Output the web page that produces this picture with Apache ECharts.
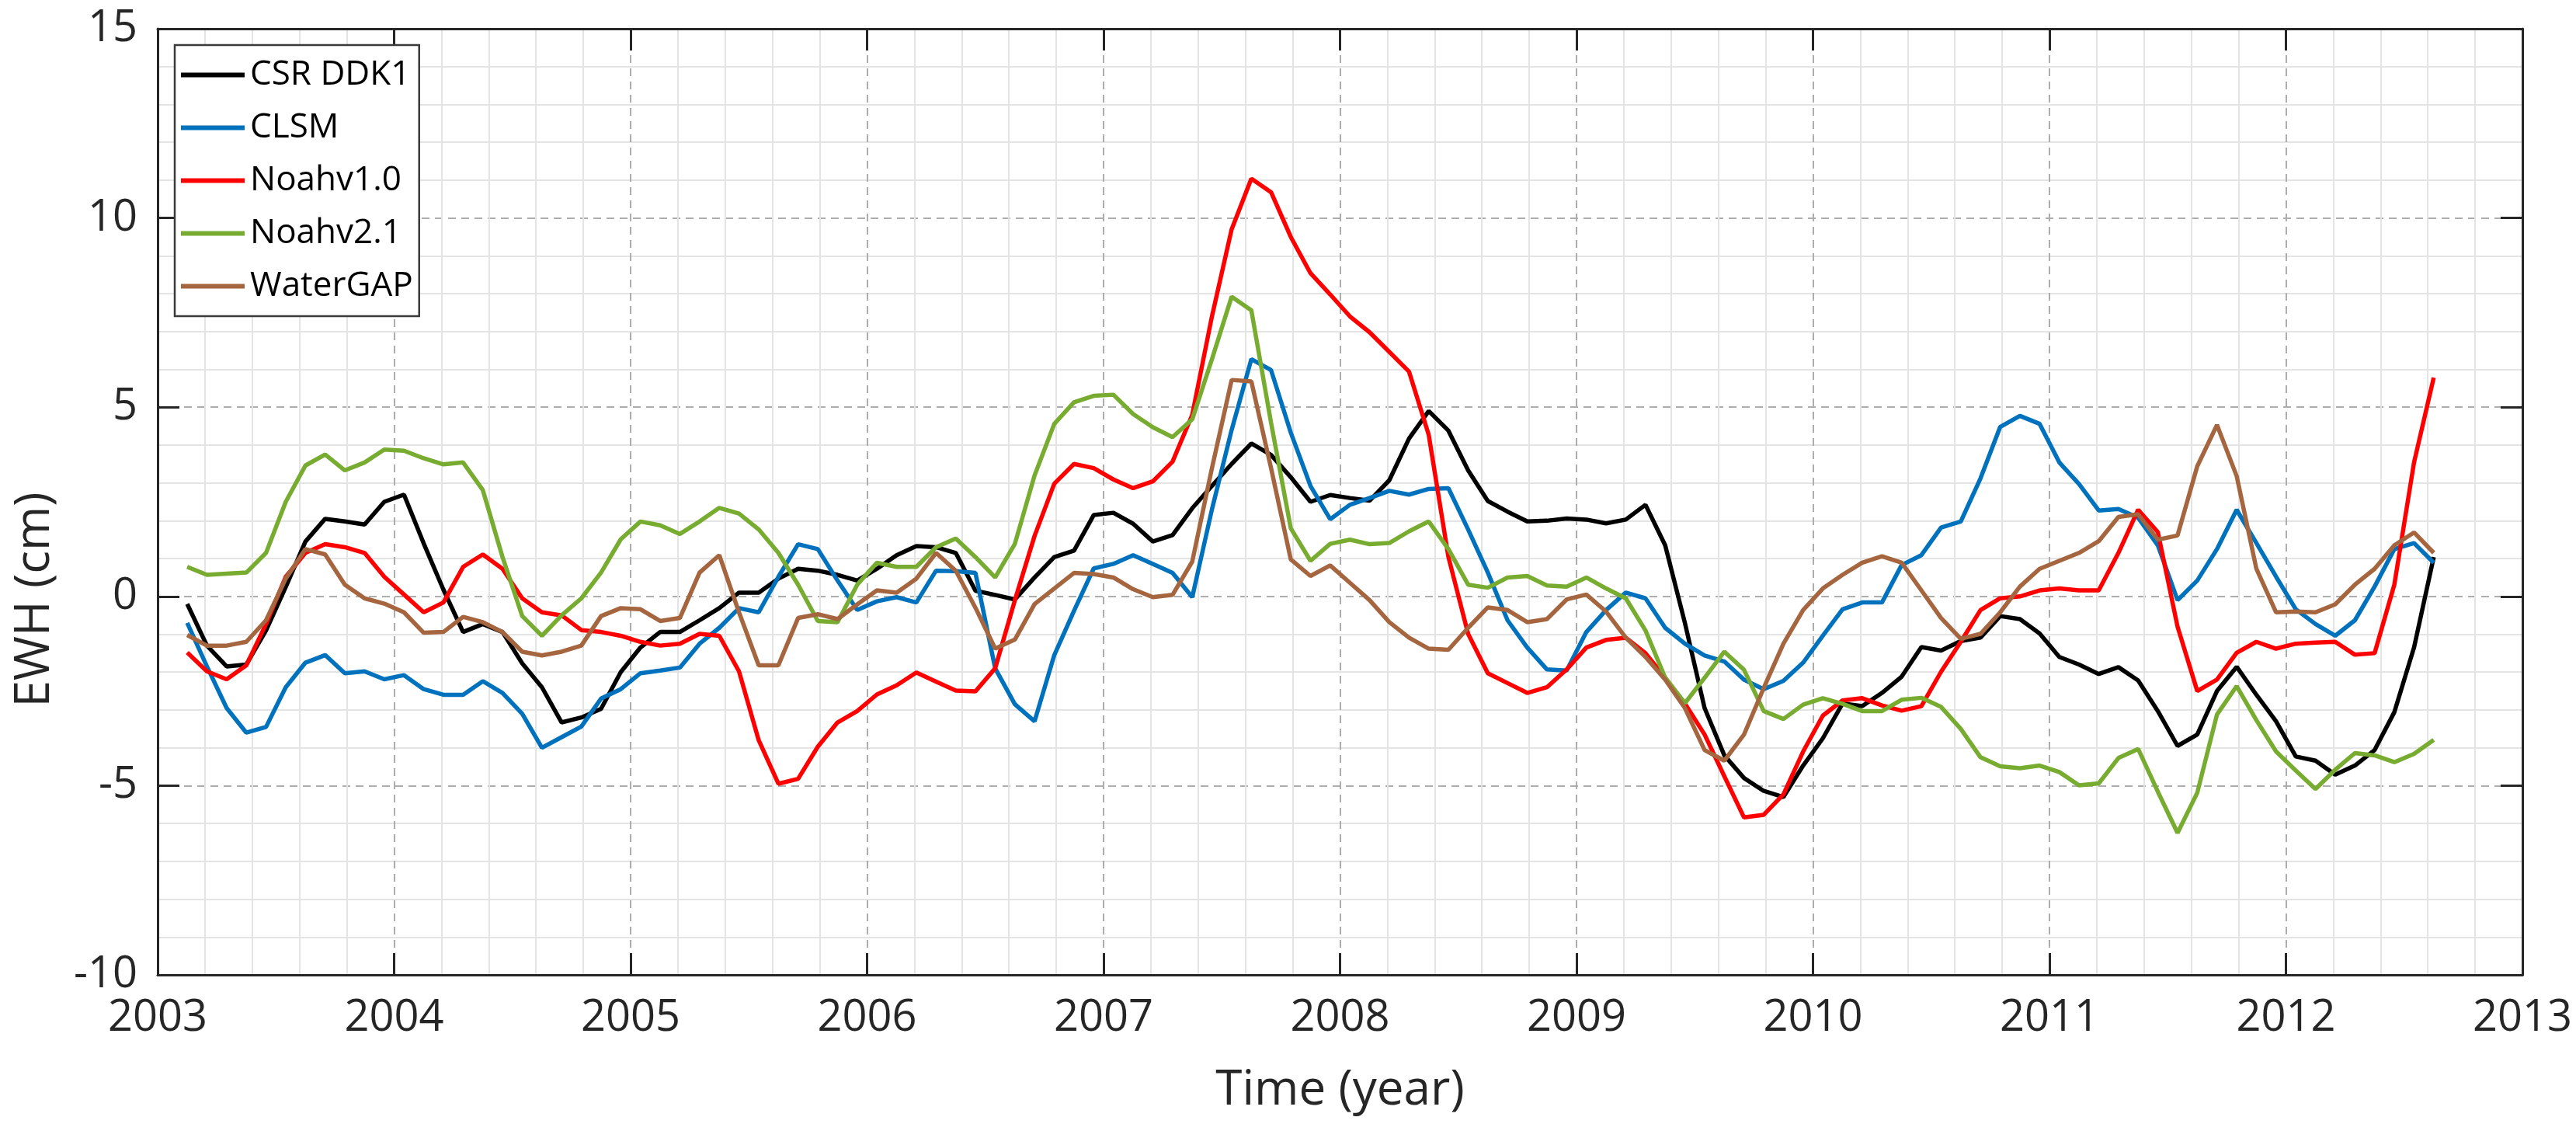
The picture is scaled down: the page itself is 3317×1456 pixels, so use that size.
<!DOCTYPE html>
<html>
<head>
<meta charset="utf-8">
<title>EWH time series</title>
<script src="https://cdn.jsdelivr.net/npm/echarts@6/dist/echarts.min.js"></script>
<style>
  html, body { margin: 0; padding: 0; background: #ffffff; }
  #chart { width: 3317px; height: 1456px; }
</style>
</head>
<body>
<div id="chart"></div>
<script>
// Monthly series, Feb 2003 – Aug 2012 (values in cm EWH)
const startYear = 2003;
const startMonth = 2; // February
const seriesNames = ['CSR DDK1', 'CLSM', 'Noahv1.0', 'Noahv2.1', 'WaterGAP'];
const seriesColors = ['#000000', '#0072BD', '#FF0000', '#77AC30', '#A5653F'];
const xAxisTitle = 'Time (year)';
const yAxisTitle = 'EWH (cm)';

const csrDDK1 = [
  -0.2, -1.3, -1.85, -1.8, -0.9, 0.25, 1.45, 2.05, 1.98, 1.9, 2.5,
  2.69, 1.4, 0.18, -0.94, -0.73, -0.94, -1.77, -2.4, -3.33, -3.2, -2.97, -2.0,
  -1.35, -0.94, -0.94, -0.63, -0.31, 0.1, 0.1, 0.47, 0.73, 0.68, 0.57, 0.42,
  0.73, 1.09, 1.33, 1.3, 1.15, 0.15, 0.04, -0.08, 0.5, 1.04, 1.21, 2.15,
  2.21, 1.92, 1.45, 1.62, 2.33, 2.92, 3.5, 4.04, 3.74, 3.15, 2.5, 2.68,
  2.6, 2.53, 3.07, 4.17, 4.9, 4.38, 3.33, 2.52, 2.24, 1.98, 2.0, 2.06,
  2.03, 1.93, 2.03, 2.42, 1.35, -0.7, -2.95, -4.2, -4.8, -5.14, -5.3, -4.47,
  -3.75, -2.83, -2.9, -2.55, -2.12, -1.34, -1.43, -1.18, -1.09, -0.52, -0.6, -0.98,
  -1.6, -1.8, -2.05, -1.87, -2.22, -3.03, -3.95, -3.65, -2.5, -1.86, -2.6, -3.3,
  -4.23, -4.34, -4.71, -4.47, -4.06, -3.06, -1.35, 1.04
];
const clsm = [
  -0.7, -1.85, -2.95, -3.6, -3.45, -2.4, -1.75, -1.55, -2.03, -1.98, -2.19,
  -2.08, -2.45, -2.6, -2.6, -2.24, -2.55, -3.1, -4.0, -3.72, -3.44, -2.7, -2.45,
  -2.03, -1.96, -1.88, -1.25, -0.83, -0.31, -0.42, 0.52, 1.38, 1.25, 0.42, -0.36,
  -0.13, -0.02, -0.16, 0.68, 0.67, 0.62, -1.9, -2.85, -3.3, -1.55, -0.38, 0.74,
  0.86, 1.09, 0.86, 0.62, -0.02, 2.3, 4.4, 6.27, 5.98, 4.33, 2.92, 2.04,
  2.42, 2.6, 2.79, 2.69, 2.84, 2.86, 1.77, 0.63, -0.63, -1.35, -1.93, -1.96,
  -0.94, -0.36, 0.1, -0.05, -0.83, -1.25, -1.56, -1.72, -2.2, -2.45, -2.23, -1.75,
  -1.04, -0.34, -0.16, -0.16, 0.83, 1.09, 1.82, 1.98, 3.12, 4.48, 4.77, 4.56,
  3.54, 2.97, 2.27, 2.31, 2.08, 1.35, -0.1, 0.42, 1.25, 2.29, 1.41, 0.52,
  -0.34, -0.73, -1.04, -0.63, 0.26, 1.25, 1.41, 0.89
];
const noahV10 = [
  -1.48, -1.98, -2.19, -1.82, -0.73, 0.52, 1.15, 1.38, 1.3, 1.15, 0.52,
  0.05, -0.42, -0.16, 0.78, 1.11, 0.73, -0.05, -0.42, -0.5, -0.89, -0.94, -1.04,
  -1.2, -1.3, -1.25, -0.99, -1.04, -1.98, -3.8, -4.95, -4.82, -3.97, -3.33, -3.03,
  -2.59, -2.35, -2.01, -2.25, -2.49, -2.51, -1.9, -0.1, 1.6, 2.98, 3.5, 3.39,
  3.09, 2.86, 3.04, 3.56, 4.8, 7.4, 9.7, 11.04, 10.68, 9.5, 8.54, 7.98,
  7.4, 6.98, 6.46, 5.94, 4.27, 1.04, -0.99, -2.03, -2.29, -2.55, -2.4, -1.93,
  -1.35, -1.15, -1.09, -1.5, -2.15, -2.83, -3.65, -4.75, -5.84, -5.77, -5.23, -4.1,
  -3.15, -2.75, -2.69, -2.88, -3.02, -2.9, -1.99, -1.2, -0.36, -0.05, 0.0, 0.16,
  0.21, 0.16, 0.16, 1.15, 2.29, 1.7, -0.8, -2.5, -2.2, -1.49, -1.2, -1.38,
  -1.25, -1.22, -1.2, -1.54, -1.5, 0.31, 3.54, 5.78
];
const noahV21 = [
  0.78, 0.57, 0.6, 0.63, 1.15, 2.5, 3.46, 3.75, 3.33, 3.54, 3.88,
  3.85, 3.65, 3.49, 3.54, 2.81, 1.04, -0.52, -1.04, -0.5, -0.05, 0.63, 1.51,
  1.98, 1.88, 1.65, 1.98, 2.34, 2.19, 1.77, 1.15, 0.31, -0.65, -0.68, 0.31,
  0.89, 0.78, 0.78, 1.3, 1.53, 1.04, 0.5, 1.39, 3.2, 4.56, 5.13, 5.3,
  5.33, 4.82, 4.47, 4.21, 4.68, 6.27, 7.92, 7.56, 4.59, 1.8, 0.94, 1.39,
  1.5, 1.38, 1.41, 1.72, 1.98, 1.25, 0.31, 0.23, 0.5, 0.54, 0.29, 0.26,
  0.5, 0.21, -0.05, -0.9, -2.15, -2.82, -2.15, -1.46, -1.94, -3.03, -3.24, -2.86,
  -2.69, -2.84, -3.03, -3.03, -2.73, -2.68, -2.92, -3.5, -4.25, -4.49, -4.54, -4.47,
  -4.64, -4.99, -4.94, -4.27, -4.03, -5.16, -6.25, -5.19, -3.12, -2.37, -3.27, -4.1,
  -4.6, -5.09, -4.58, -4.14, -4.2, -4.38, -4.16, -3.79
];
const waterGAP = [
  -1.02, -1.3, -1.3, -1.2, -0.63, 0.47, 1.25, 1.11, 0.31, -0.05, -0.19,
  -0.42, -0.96, -0.94, -0.54, -0.68, -0.94, -1.46, -1.56, -1.46, -1.3, -0.52, -0.31,
  -0.34, -0.65, -0.57, 0.63, 1.09, -0.42, -1.82, -1.82, -0.57, -0.47, -0.6, -0.21,
  0.16, 0.1, 0.47, 1.15, 0.68, -0.3, -1.38, -1.14, -0.2, 0.21, 0.62, 0.59,
  0.5, 0.19, -0.02, 0.04, 0.92, 3.39, 5.72, 5.68, 3.39, 0.98, 0.54, 0.82,
  0.36, -0.1, -0.68, -1.09, -1.38, -1.41, -0.83, -0.29, -0.36, -0.68, -0.6, -0.08,
  0.05, -0.4, -1.09, -1.6, -2.2, -2.95, -4.06, -4.34, -3.65, -2.42, -1.25, -0.36,
  0.21, 0.57, 0.89, 1.06, 0.89, 0.16, -0.57, -1.12, -0.99, -0.42, 0.26, 0.73,
  0.94, 1.15, 1.46, 2.1, 2.17, 1.5, 1.61, 3.44, 4.53, 3.18, 0.73, -0.42,
  -0.4, -0.42, -0.21, 0.31, 0.73, 1.35, 1.69, 1.15
];
const xTickLabels = ['2003','2004','2005','2006','2007','2008','2009','2010','2011','2012','2013'];
const yTickLabels = ['-10','-5','0','5','10','15'];

const allValues = [csrDDK1, clsm, noahV10, noahV21, waterGAP];

// mid-month decimal time for each sample
function timeOf(i) {
  return startYear + (startMonth - 1 + i + 0.5) / 12;
}

const FONT = '"Open Sans", "Noto Sans", sans-serif';
const AX = '#262626';

const chart = echarts.init(document.getElementById('chart'), null, { renderer: 'canvas' });

const commonAxisLine = { show: true, onZero: false, lineStyle: { color: AX, width: 3 } };

const option = {
  backgroundColor: '#ffffff',
  animation: false,
  grid: { left: 203, right: 69, top: 37, bottom: 201, containLabel: false },
  legend: {
    orient: 'vertical',
    left: 225,
    top: 58,
    padding: [11, 8, 11, 8],
    itemGap: 13,
    itemWidth: 82,
    itemHeight: 6,
    icon: 'rect',
    backgroundColor: '#ffffff',
    borderColor: '#3a3a3a',
    borderWidth: 2.5,
    borderRadius: 0,
    textStyle: { fontFamily: FONT, fontSize: 44, color: '#000000', lineHeight: 55, padding: [0, 0, 0, 2] },
    data: seriesNames
  },
  graphic: [
    {
      type: 'text',
      x: 45,
      y: 772,
      rotation: Math.PI / 2,
      style: {
        text: yAxisTitle,
        fontFamily: FONT,
        fontSize: 62,
        fill: AX,
        textAlign: 'center',
        textVerticalAlign: 'middle'
      }
    }
  ],
  xAxis: [
    {
      type: 'value',
      min: 2003, max: 2013, interval: 1,
      position: 'bottom',
      name: xAxisTitle,
      nameLocation: 'middle',
      nameGap: 118,
      nameTextStyle: { fontFamily: FONT, fontSize: 62, color: AX },
      axisLine: commonAxisLine,
      axisTick: { show: true, inside: true, length: 28, lineStyle: { color: AX, width: 3 } },
      axisLabel: {
        fontFamily: FONT, fontSize: 56, color: AX, margin: 28,
        formatter: function (v) { const i = Math.round(v - 2003); return xTickLabels[i] !== undefined ? xTickLabels[i] : ''; }
      },
      splitLine: { show: true, lineStyle: { color: '#adadad', width: 2, type: [10, 7] } },
      minorTick: { show: false, splitNumber: 5 },
      minorSplitLine: { show: true, lineStyle: { color: '#e4e4e4', width: 2 } }
    },
    {
      type: 'value',
      min: 2003, max: 2013, interval: 1,
      position: 'top',
      axisLine: commonAxisLine,
      axisTick: { show: true, inside: true, length: 28, lineStyle: { color: AX, width: 3 } },
      axisLabel: { show: false },
      splitLine: { show: false }
    }
  ],
  yAxis: [
    {
      type: 'value',
      min: -10, max: 15, interval: 5,
      position: 'left',
      axisLine: commonAxisLine,
      axisTick: { show: true, inside: true, length: 28, lineStyle: { color: AX, width: 3 } },
      axisLabel: {
        fontFamily: FONT, fontSize: 56, color: AX, margin: 26,
        formatter: function (v) { const i = Math.round((v + 10) / 5); return yTickLabels[i] !== undefined ? yTickLabels[i] : ''; }
      },
      splitLine: { show: true, lineStyle: { color: '#adadad', width: 2, type: [10, 7] } },
      minorTick: { show: false, splitNumber: 5 },
      minorSplitLine: { show: true, lineStyle: { color: '#e4e4e4', width: 2 } }
    },
    {
      type: 'value',
      min: -10, max: 15, interval: 5,
      position: 'right',
      axisLine: commonAxisLine,
      axisTick: { show: true, inside: true, length: 28, lineStyle: { color: AX, width: 3 } },
      axisLabel: { show: false },
      splitLine: { show: false }
    }
  ],
  series: seriesNames.map(function (name, k) {
    return {
      name: name,
      type: 'line',
      xAxisIndex: 0,
      yAxisIndex: 0,
      showSymbol: false,
      symbol: 'none',
      smooth: false,
      color: seriesColors[k],
      lineStyle: { color: seriesColors[k], width: 5.5 },
      z: 3 + k,
      data: allValues[k].map(function (v, i) { return [timeOf(i), v]; })
    };
  })
};

chart.setOption(option);
</script>
</body>
</html>
